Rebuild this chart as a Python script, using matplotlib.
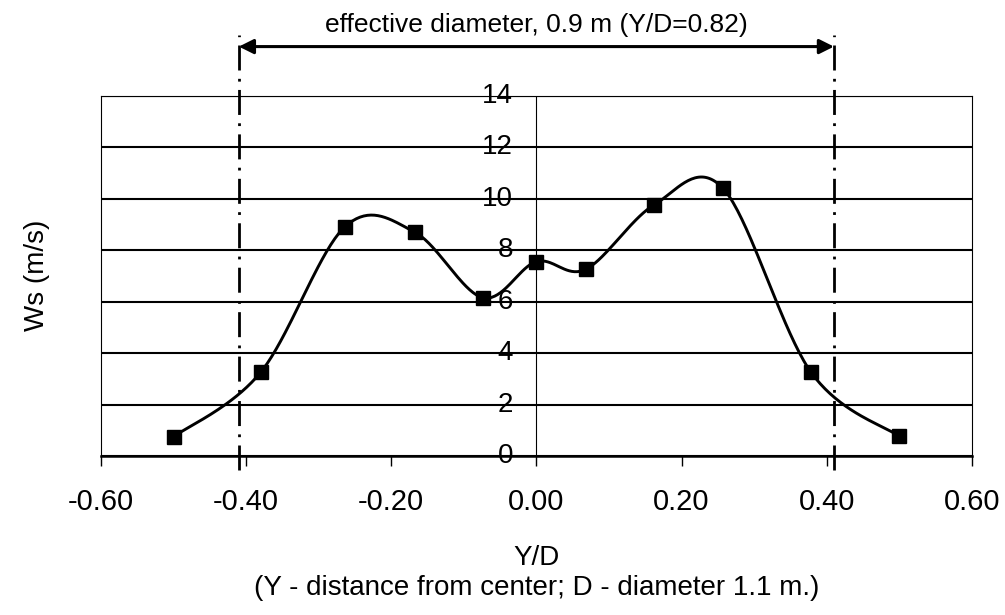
import numpy as np
import matplotlib
matplotlib.use('Agg')
import matplotlib.pyplot as plt

plt.rcParams['font.family'] = ['Liberation Sans', 'DejaVu Sans']

# measured points
yd = [-0.50, -0.38, -0.264, -0.168, -0.074, 0.00, 0.068, 0.162, 0.257, 0.378, 0.499]
ws = [0.75, 3.25, 8.9, 8.7, 6.15, 7.55, 7.25, 9.75, 10.4, 3.27, 0.78]

xticks = [-0.6, -0.4, -0.2, 0.0, 0.2, 0.4, 0.6]
xtick_labels = ['-0.60', '-0.40', '-0.20', '0.00', '0.20', '0.40', '0.60']
yticks = [0, 2, 4, 6, 8, 10, 12, 14]
eff_half = 0.41


def smooth(x, y, n=40):
    # catmull-rom through the points, like Excel's smoothed line
    p = np.column_stack([x, y])
    p = np.vstack([p[0], p, p[-1]])
    out = []
    for i in range(1, len(p) - 2):
        p0, p1, p2, p3 = p[i - 1], p[i], p[i + 1], p[i + 2]
        c1 = p1 + (p2 - p0) / 6
        c2 = p2 - (p3 - p1) / 6
        t = np.linspace(0, 1, n)[:, None]
        b = ((1 - t) ** 3) * p1 + 3 * ((1 - t) ** 2) * t * c1 + 3 * (1 - t) * t ** 2 * c2 + t ** 3 * p2
        out.append(b)
    out = np.vstack(out)
    return out[:, 0], out[:, 1]


fig = plt.figure(figsize=(10.05, 6.15), dpi=100)
ax = fig.add_axes([0.1005, 0.2585, 0.8665, 0.5862])

for v in yticks:
    ax.axhline(v, color='black', lw=1.5, zorder=1)
ax.axvline(0, color='black', lw=0.8, zorder=1)

sx, sy = smooth(yd, ws)
ax.plot(sx, sy, color='black', lw=2.1, zorder=3)
ax.plot(yd, ws, 's', color='black', ms=10, zorder=4)

ax.set_xlim(-0.6, 0.6)
ax.set_ylim(0, 14)
ax.set_xticks(xticks)
ax.set_xticklabels(xtick_labels, fontsize=21)
ax.tick_params(axis='x', direction='out', length=7, width=1, pad=16)
ax.set_yticks([])
for v in yticks:
    ax.text(-0.032, v, str(v), ha='right', va='center', fontsize=20, zorder=2)

for s in ['left', 'right', 'top']:
    ax.spines[s].set_linewidth(0.8)
ax.spines['bottom'].set_linewidth(1.8)

ax.set_ylabel('Ws (m/s)', fontsize=20, labelpad=37)
ax.set_xlabel('Y/D\n(Y - distance from center; D - diameter 1.1 m.)', fontsize=20,
              labelpad=21, linespacing=1.2)

# effective diameter markers
for xv in [-eff_half, eff_half]:
    ax.plot([xv, xv], [-0.55, 16.35], color='black', lw=2,
            linestyle=(0, (9, 3, 1, 3)), clip_on=False, zorder=2)
ax.annotate('', xy=(-eff_half, 15.9), xytext=(eff_half, 15.9),
            arrowprops=dict(arrowstyle='<|-|>', color='black', lw=2.2,
                            mutation_scale=22, shrinkA=0, shrinkB=0),
            annotation_clip=False)
ax.text(0, 16.75, 'effective diameter, 0.9 m (Y/D=0.82)', ha='center', va='center',
        fontsize=19)

fig.savefig('out.png', dpi=100)
